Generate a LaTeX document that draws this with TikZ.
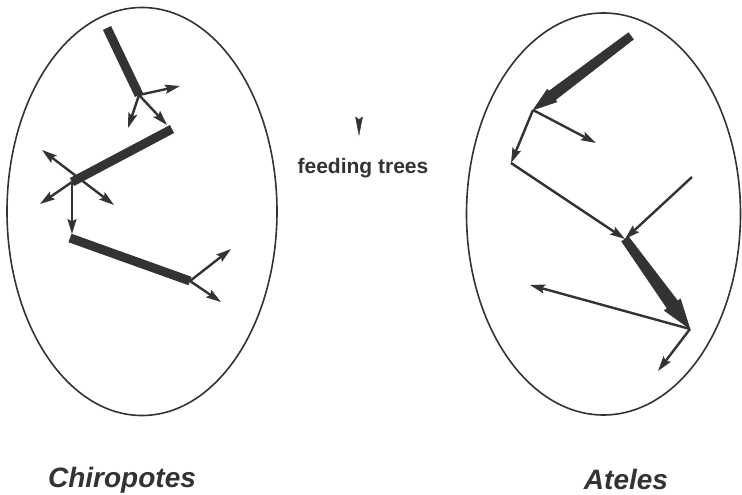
\documentclass[tikz,border=0pt]{standalone}
\usepackage{fontspec}
\setmainfont{Liberation Sans}
\usetikzlibrary{arrows.meta,calc}
\definecolor{ink}{HTML}{333333}
\begin{document}
\begin{tikzpicture}[x=1pt,y=-1pt,
  ink/.style={draw=ink,fill=ink},
  bar/.style={draw=ink,line width=9pt,line cap=butt},
  thinarrow/.style={draw=ink,line width=2.4pt,-{Stealth[length=15pt,width=9pt,inset=2.5pt]}},
  dblarrow/.style={draw=ink,line width=2.4pt,{Stealth[length=15pt,width=9pt,inset=2.5pt]}-{Stealth[length=15pt,width=9pt,inset=2.5pt]}},
  oval/.style={draw=ink,line width=1.6pt},
  lbl/.style={text=ink,font=\bfseries\itshape\fontsize{28}{30}\selectfont,anchor=base},
  midlbl/.style={text=ink,font=\bfseries\fontsize{21}{23}\selectfont,anchor=base}]
\useasboundingbox (0,0) rectangle (742,495);
\fill[white] (0,0) rectangle (742,495);

% ---------- ellipses
\draw[oval] (142,211.5) ellipse [x radius=135pt, y radius=204pt];
\draw[oval] (603.5,214) ellipse [x radius=137pt, y radius=201pt];

% ---------- Chiropotes path
\coordinate (a1) at (107,28);
\coordinate (a2) at (139,95);
\coordinate (a2r) at (180,86);
\coordinate (a2d) at (128,128);
\coordinate (a2s) at (167,125);
\coordinate (a3) at (172,129);
\coordinate (a4) at (72,182);
\coordinate (a4ul) at (42,150);
\coordinate (a4dl) at (40,204);
\coordinate (a4dr) at (114,205);
\coordinate (a4d) at (72,234);
\coordinate (a5) at (70,238);
\coordinate (a6) at (190,281);
\coordinate (a6u) at (231,249);
\coordinate (a6d) at (221,302);

\draw[bar] (a1) -- (a2);
\draw[bar] (a3) -- (a4);
\draw[bar] (a5) -- (a6);
\draw[thinarrow] (a2) -- (a2r);
\draw[thinarrow] (a2) -- (a2d);
\draw[thinarrow] (a2) -- (a2s);
\draw[dblarrow] (a4ul) -- (a4dr);
\draw[thinarrow] (a4) -- (a4dl);
\draw[thinarrow] (a4) -- (a4d);
\draw[thinarrow] (a6) -- (a6u);
\draw[thinarrow] (a6) -- (a6d);

% ---------- Ateles path
\coordinate (b1) at (631,36);
\coordinate (b2) at (533,110);
\coordinate (b2r) at (596,143);
\coordinate (b3) at (511,163);
\coordinate (b4) at (625,239);
\coordinate (b5) at (692,177);
\coordinate (b6) at (690,329);
\coordinate (b6l) at (530,285);
\coordinate (b6d) at (658,371);

% thick tapered arrow b1 -> b2
\coordinate (h1) at ($(b2)!24pt!(b1)$);
\fill[ink] ($(b1)!4.2pt!90:(b2)$) -- ($(h1)!5.5pt!90:(b2)$) -- ($(h1)!8pt!90:(b2)$) -- (b2)
  -- ($(h1)!8pt!-90:(b2)$) -- ($(h1)!5.5pt!-90:(b2)$) -- ($(b1)!4.2pt!-90:(b2)$) -- cycle;
% thick tapered arrow b4 -> b6
\coordinate (h2) at ($(b6)!30pt!(b4)$);
\fill[ink] ($(b4)!4.2pt!90:(b6)$) -- ($(h2)!6.5pt!90:(b6)$) -- ($(h2)!10pt!90:(b6)$) -- (b6)
  -- ($(h2)!10pt!-90:(b6)$) -- ($(h2)!6.5pt!-90:(b6)$) -- ($(b4)!4.2pt!-90:(b6)$) -- cycle;

\draw[thinarrow] (b2) -- (b2r);
\draw[thinarrow] (b2) -- (b3);
\draw[thinarrow] (b3) -- (b4);
\draw[thinarrow] (b5) -- (b4);
\draw[thinarrow] (b6) -- (b6l);
\draw[thinarrow] (b6) -- (b6d);

% ---------- legend
\fill[ink] (355.5,117) -- (359,119.5) -- (362.5,117) -- (359,135) -- cycle;
\node[midlbl] (ft) at (363,173) {feeding trees};

% ---------- labels
\node[lbl] (chi) at (122,487) {Chiropotes};
\node[lbl] (ate) at (626,489) {Ateles};
\end{tikzpicture}
\end{document}
